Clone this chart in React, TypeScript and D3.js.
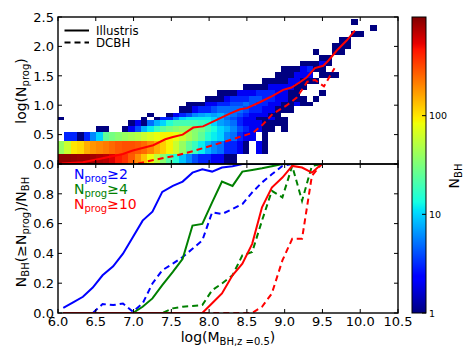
import React from 'react';
import * as d3 from 'd3';

// ---------------- DATA ----------------
// 2D histogram (Illustris): log(M_BH) bins x log(N_prog) bins
const massBinStart = 6.0;
const massBinWidth = 0.0844;
const nprogEdges = [0, 0.176, 0.398, 0.544, 0.653, 0.74, 0.80, 0.875, 0.978, 1.06, 1.16, 1.26, 1.36, 1.46, 1.56, 1.66, 1.76, 1.86, 1.96, 2.06, 2.16, 2.26, 2.36, 2.46];
// counts per mass column, listed from the lowest N_prog row upward
const nBhCounts: number[][] = [
  [900, 40, 0, 0, 0, 1],
  [900, 60, 3],
  [880, 100, 3],
  [850, 110, 1],
  [850, 150, 3],
  [800, 180, 6],
  [750, 200, 10, 1],
  [700, 220, 25, 1],
  [580, 250, 30],
  [450, 280, 35],
  [380, 300, 40, 1],
  [280, 300, 45, 2, 1],
  [190, 280, 50, 4, 2],
  [130, 250, 60, 8, 1, 1],
  [85, 200, 70, 12, 5, 0, 1],
  [55, 150, 80, 18, 8, 1],
  [35, 120, 90, 24, 10, 3],
  [22, 90, 90, 30, 15, 3, 1],
  [15, 60, 80, 35, 20, 6, 2],
  [9, 40, 60, 40, 20, 10, 3, 1],
  [6, 25, 45, 40, 20, 12, 4, 1, 1],
  [4, 18, 35, 35, 20, 12, 6, 2, 1],
  [3, 12, 25, 30, 18, 12, 7, 3, 1],
  [3, 8, 15, 20, 15, 12, 8, 3, 2, 1],
  [2, 6, 12, 14, 10, 10, 7, 4, 2, 1],
  [2, 5, 10, 10, 7, 7, 8, 5, 3, 1, 1],
  [1, 3, 6, 8, 6, 5, 6, 5, 3, 2, 1],
  [1, 3, 5, 6, 5, 4, 5, 5, 4, 3, 1],
  [0, 2, 3, 4, 3, 3, 4, 5, 4, 3, 2],
  [0, 1, 2, 3, 2, 2, 3, 4, 5, 3, 2, 1],
  [0, 0, 2, 2, 2, 2, 2, 3, 4, 4, 2, 1],
  [0, 2, 0, 2, 2, 1, 2, 3, 3, 4, 3, 1],
  [0, 1, 1, 1, 1, 1, 2, 2, 3, 3, 3, 1, 1],
  [0, 0, 0, 1, 1, 2, 1, 2, 2, 3, 3, 2, 1],
  [0, 0, 0, 0, 1, 1, 1, 1, 2, 2, 2, 2, 1, 1],
  [0, 0, 0, 1, 1, 1, 0, 1, 1, 2, 2, 2, 1, 1, 1],
  [0, 0, 0, 0, 0, 0, 0, 1, 1, 1, 1, 2, 2, 1, 1],
  [0, 0, 0, 0, 0, 0, 0, 0, 2, 1, 1, 1, 2, 2, 1],
  [0, 0, 0, 0, 0, 0, 0, 0, 1, 1, 0, 1, 1, 2, 2, 1],
  [0, 0, 0, 0, 0, 0, 0, 0, 1, 0, 0, 0, 1, 2, 3, 1],
  [0, 0, 0, 0, 0, 0, 0, 0, 0, 1, 0, 0, 1, 0, 1, 1, 0, 1],
  [0, 0, 0, 0, 0, 0, 0, 0, 0, 0, 1, 0, 0, 1, 1, 2, 1],
  [0, 0, 0, 0, 0, 0, 0, 0, 0, 0, 0, 0, 0, 1, 0, 1, 1],
  [0, 0, 0, 0, 0, 0, 0, 0, 0, 0, 0, 0, 0, 1, 0, 0, 0, 1, 1],
  [0, 0, 0, 0, 0, 0, 0, 0, 0, 0, 0, 0, 0, 0, 0, 0, 0, 1, 1, 1],
  [0, 0, 0, 0, 0, 0, 0, 0, 0, 0, 0, 0, 0, 0, 0, 0, 0, 0, 1, 1],
  [0, 0, 0, 0, 0, 0, 0, 0, 0, 0, 0, 0, 0, 0, 0, 0, 0, 0, 0, 0, 1, 0, 1],
  [0, 0, 0, 0, 0, 0, 0, 0, 0, 0, 0, 0, 0, 0, 0, 0, 0, 0, 0, 0, 1],
  [],
  [0, 0, 0, 0, 0, 0, 0, 0, 0, 0, 0, 0, 0, 0, 0, 0, 0, 0, 0, 0, 0, 1],
];

// mean log(N_prog) curves (top panel)
const illustrisMassX = [6.05, 6.33, 6.56, 6.86, 6.99, 7.26, 7.42, 7.52, 7.65, 7.79, 7.92, 8.10, 8.28, 8.41, 8.50, 8.67, 8.84, 8.98, 9.09, 9.20, 9.29, 9.40, 9.51, 9.58, 9.69, 9.82, 9.93];
const illustrisMeanN = [0.01, 0.03, 0.09, 0.17, 0.23, 0.32, 0.42, 0.46, 0.50, 0.62, 0.64, 0.75, 0.86, 0.93, 0.95, 1.05, 1.16, 1.26, 1.30, 1.39, 1.47, 1.63, 1.67, 1.76, 1.93, 2.10, 2.27];
const dcbhMassX = [7.06, 7.31, 7.52, 7.79, 8.05, 8.31, 8.50, 8.58, 8.71, 8.84, 9.03, 9.16, 9.30, 9.40, 9.52, 9.66];
const dcbhMeanN = [0.01, 0.08, 0.13, 0.22, 0.32, 0.42, 0.50, 0.53, 0.67, 0.85, 1.00, 1.13, 1.40, 1.43, 1.32, 1.63];

// fraction curves (bottom panel)
const fracMass = [6.07, 6.20, 6.33, 6.46, 6.59, 6.73, 6.86, 6.99, 7.12, 7.25, 7.38, 7.52, 7.65, 7.78, 7.91, 8.04, 8.17, 8.31, 8.44, 8.57, 8.70, 8.83, 8.97, 9.10, 9.23, 9.36, 9.49];
const illustrisGe2 = [0.035, 0.072, 0.109, 0.171, 0.253, 0.313, 0.398, 0.509, 0.62, 0.68, 0.813, 0.853, 0.882, 0.942, 0.964, 0.949, 0.976, 0.985, 1, 1, 1, 1, 1, 1, 1, 1, 1];
const dcbhGe2 = [0, 0, 0, 0, 0.06, 0.053, 0.064, 0.009, 0.064, 0.198, 0.287, 0.331, 0.376, 0.431, 0.487, 0.676, 0.664, 0.698, 0.731, 0.809, 0.876, 0.931, 0.987, 1, 1, 1, 1];
const illustrisGe4 = [0, 0, 0, 0, 0, 0, 0, 0, 0.042, 0.098, 0.187, 0.276, 0.364, 0.587, 0.598, 0.742, 0.882, 0.853, 0.949, 0.96, 0.971, 0.985, 1, 1, 1, 1, 1];
const dcbhGe4 = [0, 0, 0, 0, 0, 0, 0, 0, 0, 0, 0, 0.031, 0.042, 0.047, 0.053, 0.153, 0.198, 0.253, 0.387, 0.409, 0.62, 0.82, 0.776, 0.987, 0.753, 0.987, 1];
const illustrisGe10 = [0, 0, 0, 0, 0, 0, 0, 0, 0, 0, 0, 0, 0, 0, 0, 0.065, 0.131, 0.253, 0.331, 0.464, 0.709, 0.842, 0.909, 0.987, 0.976, 0.942, 1];
const dcbhGe10 = [0, 0, 0, 0, 0, 0, 0, 0, 0, 0, 0, 0, 0, 0, 0, 0, 0, 0, 0, 0, 0.042, 0.131, 0.353, 0.498, 0.498, 0.92, 1];

const xTicks = [6.0, 6.5, 7.0, 7.5, 8.0, 8.5, 9.0, 9.5, 10.0, 10.5];
const topYTicks = [0.0, 0.5, 1.0, 1.5, 2.0, 2.5];
const botYTicks = [0.0, 0.2, 0.4, 0.6, 0.8];
const botYTickMarks = [0.0, 0.2, 0.4, 0.6, 0.8, 1.0];
const cbTicks = [1, 10, 100];

const legendThresholds = ['2', '4', '10'];
const legendColors = ['#0000ff', '#008000', '#ff0000'];

// ---------------- LAYOUT ----------------
const W = 463, H = 348;
const X0 = 58, X1 = 398, TOP = 17, MID = 164, BOT = 313;
const CBX = 412, CBW = 14;
const FONT = 'DejaVu Sans, Verdana, sans-serif';

const jetR: [number, number][] = [[0, 0], [0.35, 0], [0.66, 1], [0.89, 1], [1, 0.5]];
const jetG: [number, number][] = [[0, 0], [0.125, 0], [0.375, 1], [0.64, 1], [0.91, 0], [1, 0]];
const jetB: [number, number][] = [[0, 0.5], [0.11, 1], [0.34, 1], [0.65, 0], [1, 0]];
function seg(s: [number, number][], t: number) {
  for (let i = 1; i < s.length; i++) {
    if (t <= s[i][0]) {
      const [x0, y0] = s[i - 1];
      const [x1, y1] = s[i];
      return y0 + (y1 - y0) * (t - x0) / (x1 - x0);
    }
  }
  return s[s.length - 1][1];
}
function jet(t: number) {
  const c = Math.max(0, Math.min(1, t));
  const r = Math.round(255 * seg(jetR, c));
  const g = Math.round(255 * seg(jetG, c));
  const b = Math.round(255 * seg(jetB, c));
  return `rgb(${r},${g},${b})`;
}

export default function App() {
  const x = d3.scaleLinear().domain([6, 10.5]).range([X0, X1]);
  const yTop = d3.scaleLinear().domain([0, 2.5]).range([MID, TOP]);
  const yBot = d3.scaleLinear().domain([0, 1]).range([BOT, MID]);
  const cScale = d3.scaleLog().domain([1, 1000]).range([0, 1]);
  const cbY = d3.scaleLog().domain([1, 1000]).range([BOT, TOP]);

  const cells: React.ReactNode[] = [];
  nBhCounts.forEach((col, ci) => {
    const xa = x(massBinStart + ci * massBinWidth);
    const xb = x(massBinStart + (ci + 1) * massBinWidth);
    col.forEach((v, ri) => {
      if (!v) return;
      const ya = yTop(nprogEdges[ri + 1]);
      const yb = yTop(nprogEdges[ri]);
      cells.push(
        <rect key={`c${ci}-${ri}`} x={xa} y={ya} width={xb - xa} height={yb - ya}
          fill={jet(cScale(v))} shapeRendering="crispEdges" />
      );
    });
  });

  const lineXY = d3.line<[number, number]>().x(d => x(d[0])).y(d => yTop(d[1]));
  const illPath = lineXY(illustrisMassX.map((m, i) => [m, illustrisMeanN[i]]));
  const dcbhPath = lineXY(dcbhMassX.map((m, i) => [m, dcbhMeanN[i]]));

  const fracLine = (vals: number[]) =>
    d3.line<number>().x((_, i) => x(fracMass[i])).y(d => yBot(d))(vals) || '';

  const fracSeries = [
    { v: illustrisGe2, c: legendColors[0], dash: false },
    { v: dcbhGe2, c: legendColors[0], dash: true },
    { v: illustrisGe4, c: legendColors[1], dash: false },
    { v: dcbhGe4, c: legendColors[1], dash: true },
    { v: illustrisGe10, c: legendColors[2], dash: false },
    { v: dcbhGe10, c: legendColors[2], dash: true },
  ];

  // colorbar strips
  const cbRects: React.ReactNode[] = [];
  for (let py = TOP; py < BOT; py++) {
    const v = cbY.invert(py + 0.5);
    cbRects.push(<rect key={`cb${py}`} x={CBX} y={py} width={CBW} height={1.05} fill={jet(cScale(v))} shapeRendering="crispEdges" />);
  }

  const TL = 4;
  return (
    <svg width={W} height={H} style={{ position: 'absolute', left: 0, top: 0, background: '#fff' }}
      fontFamily={FONT}>
      <defs>
        <clipPath id="clipTop"><rect x={X0} y={TOP} width={X1 - X0} height={MID - TOP} /></clipPath>
        <clipPath id="clipBot"><rect x={X0} y={MID} width={X1 - X0} height={BOT - MID} /></clipPath>
      </defs>

      {/* top panel */}
      <g clipPath="url(#clipTop)">
        {cells}
        <path d={illPath || ''} fill="none" stroke="#ff0000" strokeWidth={2} />
        <path d={dcbhPath || ''} fill="none" stroke="#ff0000" strokeWidth={2} strokeDasharray="6,4" />
      </g>

      {/* bottom panel */}
      <g clipPath="url(#clipBot)">
        {fracSeries.map((s, i) => (
          <path key={`f${i}`} d={fracLine(s.v)} fill="none" stroke={s.c} strokeWidth={2}
            strokeDasharray={s.dash ? '6,4' : undefined} />
        ))}
      </g>

      {/* frames */}
      <rect x={X0} y={TOP} width={X1 - X0} height={MID - TOP} fill="none" stroke="#000" strokeWidth={1.4} />
      <rect x={X0} y={MID} width={X1 - X0} height={BOT - MID} fill="none" stroke="#000" strokeWidth={1.4} />

      {/* x ticks */}
      {xTicks.map(t => (
        <g key={`xt${t}`} stroke="#000" strokeWidth={1}>
          <line x1={x(t)} x2={x(t)} y1={TOP} y2={TOP + TL} />
          <line x1={x(t)} x2={x(t)} y1={MID} y2={MID - TL} />
          <line x1={x(t)} x2={x(t)} y1={MID} y2={MID + TL} />
          <line x1={x(t)} x2={x(t)} y1={BOT} y2={BOT - TL} />
        </g>
      ))}
      {xTicks.map(t => (
        <text key={`xl${t}`} x={x(t)} y={326} fontSize={13} textAnchor="middle" fill="#000">{t.toFixed(1)}</text>
      ))}

      {/* y ticks top */}
      {topYTicks.map(t => (
        <g key={`yt${t}`}>
          <line x1={X0} x2={X0 + TL} y1={yTop(t)} y2={yTop(t)} stroke="#000" />
          <line x1={X1} x2={X1 - TL} y1={yTop(t)} y2={yTop(t)} stroke="#000" />
          <text x={54} y={yTop(t) + 4.7} fontSize={13} textAnchor="end">{t.toFixed(1)}</text>
        </g>
      ))}
      {/* y ticks bottom */}
      {botYTickMarks.map(t => (
        <g key={`ybm${t}`}>
          <line x1={X0} x2={X0 + TL} y1={yBot(t)} y2={yBot(t)} stroke="#000" />
          <line x1={X1} x2={X1 - TL} y1={yBot(t)} y2={yBot(t)} stroke="#000" />
        </g>
      ))}
      {botYTicks.map(t => (
        <text key={`ybl${t}`} x={54} y={yBot(t) + 4.7} fontSize={13} textAnchor="end">{t.toFixed(1)}</text>
      ))}

      {/* top legend */}
      <line x1={64.5} x2={89} y1={30.5} y2={30.5} stroke="#000" strokeWidth={2} />
      <text x={96} y={34.5} fontSize={11.8}>Illustris</text>
      <line x1={64.5} x2={89} y1={42.5} y2={42.5} stroke="#000" strokeWidth={2} strokeDasharray="6,4" />
      <text x={96} y={47} fontSize={11.8}>DCBH</text>

      {/* bottom legend */}
      {legendThresholds.map((th, i) => (
        <text key={`lg${i}`} x={74} y={178.5 + i * 15} fontSize={14} fill={legendColors[i]}>
          N<tspan fontSize={10} dy={3}>prog</tspan><tspan dy={-3}>{'\u2265'}{th}</tspan>
        </text>
      ))}

      {/* axis labels */}
      <text transform="translate(26,91) rotate(-90)" fontSize={14} textAnchor="middle">
        log(N<tspan fontSize={10} dy={3}>prog</tspan><tspan dy={-3}>)</tspan>
      </text>
      <text transform="translate(26,232) rotate(-90)" fontSize={14} textAnchor="middle">
        N<tspan fontSize={10} dy={3}>BH</tspan><tspan dy={-3}>({'\u2265'}N</tspan><tspan fontSize={10} dy={3}>prog</tspan><tspan dy={-3}>)/N</tspan><tspan fontSize={10} dy={3}>BH</tspan>
      </text>
      <text x={228} y={341.5} fontSize={14} textAnchor="middle">
        log(M<tspan fontSize={10} dy={3}>BH,z =0.5</tspan><tspan dy={-3}>)</tspan>
      </text>

      {/* colorbar */}
      {cbRects}
      <rect x={CBX} y={TOP} width={CBW} height={BOT - TOP} fill="none" stroke="#000" strokeWidth={1} />
      {cbTicks.map(t => (
        <g key={`cbt${t}`}>
          <line x1={CBX + CBW} x2={CBX + CBW - 4} y1={cbY(t)} y2={cbY(t)} stroke="#000" />
          <text x={CBX + CBW + 3} y={cbY(t) + 3.5} fontSize={9.5}>{t}</text>
        </g>
      ))}
      <text transform="translate(459,176) rotate(-90)" fontSize={14} textAnchor="middle">
        N<tspan fontSize={10} dy={3}>BH</tspan>
      </text>
    </svg>
  );
}
